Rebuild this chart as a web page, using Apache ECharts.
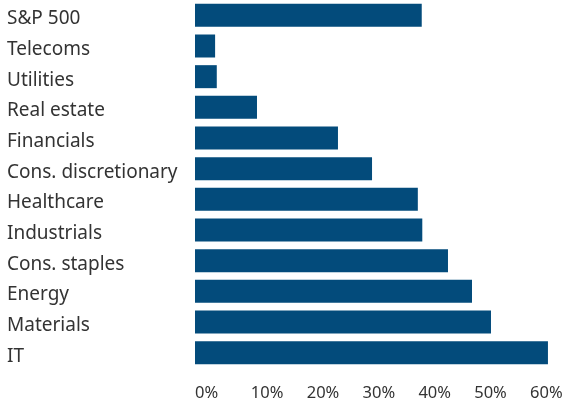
<!DOCTYPE html>
<html><head><meta charset="utf-8">
<script src="https://cdn.jsdelivr.net/npm/echarts@6/dist/echarts.min.js"></script>
<style>html,body{margin:0;padding:0;background:#fff}#c{width:568px;height:403px}</style>
</head><body><div id="c"></div>
<script>
const categories = ["S&P 500","Telecoms","Utilities","Real estate","Financials","Cons. discretionary","Healthcare","Industrials","Cons. staples","Energy","Materials","IT"];
const values = [40.6, 3.6, 3.9, 11.1, 25.6, 31.7, 39.9, 40.7, 45.3, 49.6, 53.0, 63.2];
const tickValues = [0, 10, 20, 30, 40, 50, 60];

const chart = echarts.init(document.getElementById('c'), null, {renderer:'canvas'});
const font = "'Noto Sans', sans-serif";
chart.setOption({
  animation:false,
  grid:{left:195, right:10, top:0, height:368, containLabel:false},
  xAxis:{type:'value', min:0, max:65, interval:10,
    axisLine:{show:false}, axisTick:{show:false}, splitLine:{show:false},
    axisLabel:{align:'left', margin:17, color:'#333', fontSize:16.5, fontFamily:font,
      formatter:v => tickValues.includes(v) ? v + '%' : ''}},
  yAxis:{type:'category', data:categories, inverse:true,
    axisLine:{show:false}, axisTick:{show:false}, splitLine:{show:false},
    axisLabel:{align:'left', margin:188, color:'#333', fontSize:19, fontFamily:font,
      verticalAlign:'top', lineHeight:7}},
  series:[{type:'bar', data:values, barCategoryGap:'25%', itemStyle:{color:'#034b7b'}}]
});
</script></body></html>
